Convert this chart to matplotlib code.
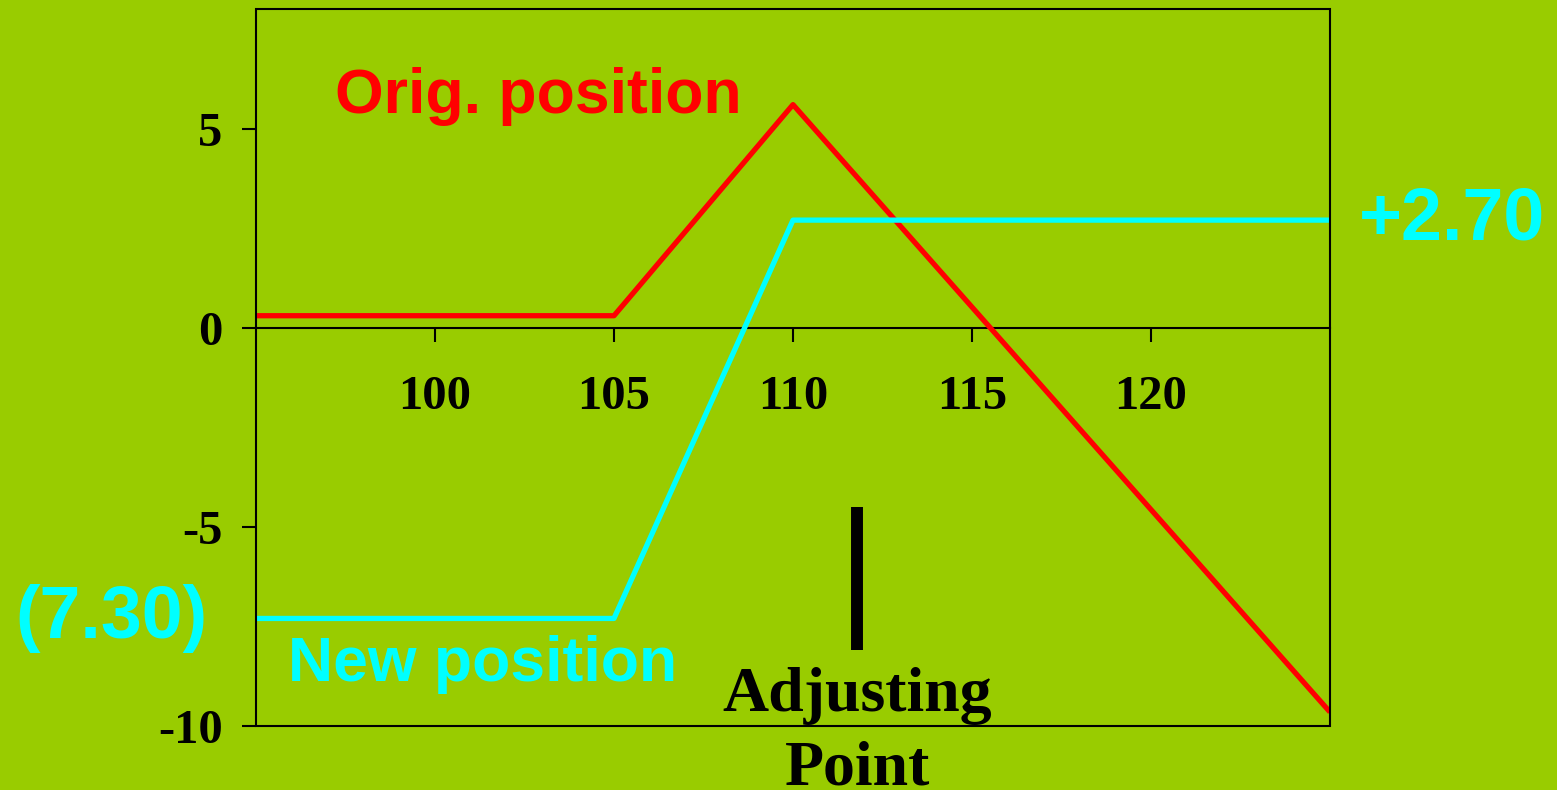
import matplotlib
matplotlib.use("Agg")
import matplotlib.pyplot as plt
from matplotlib.patches import Rectangle

# payoff at expiry, before and after the adjustment
price = [95, 105, 110, 125]
orig_pnl = [0.3, 0.3, 5.6, -9.65]
new_pnl = [-7.3, -7.3, 2.7, 2.7]

x_ticks = [100, 105, 110, 115, 120]
y_ticks = [-10, -5, 0, 5]
adjust_at = 111.8
adjust_bar = [-4.5, -8.1]

BG = "#99cc00"
RED = "#ff0000"
CYAN = "#00ffff"
SERIF = "Liberation Serif"
SANS = "Liberation Sans"

plt.rcParams["axes.unicode_minus"] = False

fig = plt.figure(figsize=(15.57, 7.90), dpi=100, facecolor=BG)
ax = fig.add_axes([0.1644, 0.081, 0.6898, 0.9076], facecolor=BG)

ax.plot(price, orig_pnl, color=RED, lw=3.8, solid_capstyle="butt", zorder=3)
ax.plot(price, new_pnl, color=CYAN, lw=3.8, solid_capstyle="butt", zorder=3)

ax.set_xlim(95, 125)
ax.set_ylim(-10, 8)

# x axis runs through zero, the frame is drawn separately
for side in ("top", "right", "left"):
    ax.spines[side].set_visible(False)
ax.spines["bottom"].set_position(("data", 0))
ax.spines["bottom"].set_linewidth(1.5)
ax.add_patch(Rectangle((0, 0), 1, 1, transform=ax.transAxes, fill=False,
                       lw=1.5, ec="black", clip_on=False, zorder=4))

ax.set_xticks(x_ticks)
ax.set_yticks(y_ticks)
ax.tick_params(axis="x", direction="out", length=10, width=1.5, pad=24)
ax.tick_params(axis="y", direction="out", length=10, width=1.5, pad=14)
for lab in ax.get_xticklabels() + ax.get_yticklabels():
    lab.set_fontfamily(SERIF)
    lab.set_fontweight("bold")
    lab.set_fontsize(35)

# adjustment marker
ax.plot([adjust_at, adjust_at], adjust_bar, color="black", lw=8.6,
        solid_capstyle="butt", zorder=3)
ax.text(adjust_at, -8.52, "Adjusting\nPoint", ha="center", va="top",
        fontfamily=SERIF, fontweight="bold", fontsize=46, linespacing=1.36,
        clip_on=False)

ax.text(97.2, 5.8, "Orig. position", color=RED, fontfamily=SANS,
        fontweight="bold", fontsize=45, va="center", ha="left")
ax.text(95.9, -8.45, "New position", color=CYAN, fontfamily=SANS,
        fontweight="bold", fontsize=45, va="center", ha="left")
ax.text(125.8, new_pnl[-1], "+%.2f" % new_pnl[-1], color=CYAN,
        fontfamily=SANS, fontweight="bold", fontsize=53, va="center",
        ha="left", clip_on=False)
ax.text(90.95, new_pnl[0], "(%.2f)" % abs(new_pnl[0]), color=CYAN,
        fontfamily=SANS, fontweight="bold", fontsize=53, va="center",
        ha="center", clip_on=False)

fig.savefig("out.png", dpi=100, facecolor=BG)
